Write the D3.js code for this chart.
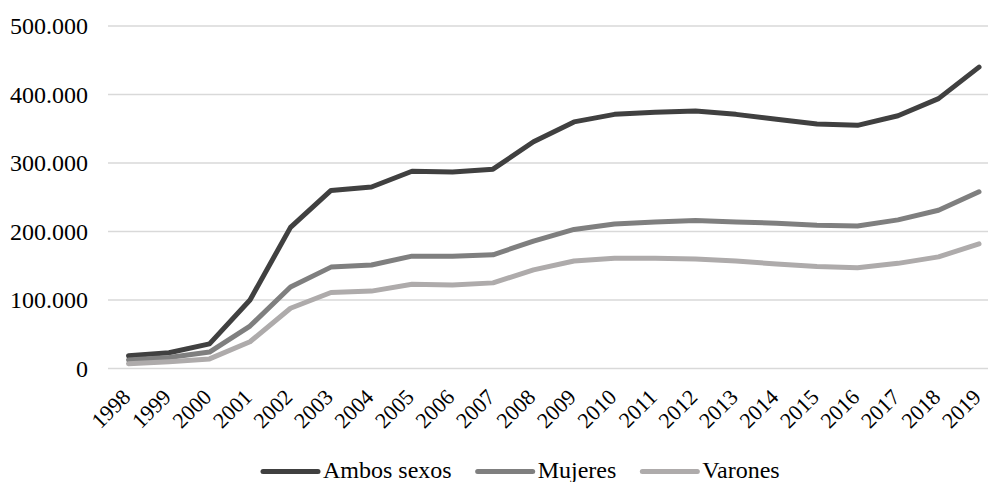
<!DOCTYPE html>
<html><head><meta charset="utf-8">
<script src="https://cdn.jsdelivr.net/npm/d3@7"></script>
<style>body{margin:0;background:#fff}svg{display:block}</style>
</head><body><svg id="c" width="988" height="482"></svg>
<script>
const years = ["1998","1999","2000","2001","2002","2003","2004","2005","2006","2007","2008","2009","2010","2011","2012","2013","2014","2015","2016","2017","2018","2019"];
const ambos = [18500,23000,36000,100000,206000,260000,265000,288000,287000,291000,331000,360000,371000,374000,376000,371000,364000,357000,355000,369000,394000,440000];
const mujeres = [12500,16000,24000,62000,119000,148000,151000,164000,164000,166000,186000,203000,211000,214000,216000,214000,212000,209000,208000,217000,231000,258000];
const varones = [7000,10000,14000,39000,88000,111000,113000,123000,122000,125000,144000,157000,161000,161000,160000,157000,152500,149000,147000,153500,163000,182000];
const yTicks = [0,100000,200000,300000,400000,500000];
const seriesNames = ["Ambos sexos","Mujeres","Varones"];
const seriesColors = ["#404040","#7f7f7f","#aeabab"];
const seriesData = [ambos, mujeres, varones];

const FAMILY = "Liberation Serif";
const svg = d3.select("#c");
const x = d3.scalePoint().domain(years).range([128.5, 979]);
const y = d3.scaleLinear().domain([0,500000]).range([368.5, 26]);
const fmt = v => d3.format(",")(v).replace(/,/g, ".");

// gridlines
svg.append("g").selectAll("line").data(yTicks).join("line")
  .attr("x1",108).attr("x2",988)
  .attr("y1",d=>y(d)).attr("y2",d=>y(d))
  .attr("stroke","#d9d9d9").attr("stroke-width",1.5);

// y axis labels
const yAxis = d3.axisLeft(y).tickValues(yTicks).tickFormat(fmt).tickSize(0).tickPadding(0);
const gy = svg.append("g").attr("transform","translate(88,0)").call(yAxis);
gy.select(".domain").remove();
gy.attr("font-family",null);
gy.selectAll("text").style("font-family",FAMILY).style("font-size","24px").style("fill","#000");

// x axis labels
const xAxis = d3.axisBottom(x).tickSize(0).tickPadding(0);
const gx = svg.append("g").attr("transform","translate(0,368.5)").call(xAxis);
gx.select(".domain").remove();
gx.attr("font-family",null);
gx.selectAll("text").style("font-family",FAMILY).style("font-size","22px").style("fill","#000")
  .attr("text-anchor","end").attr("dy",null).attr("y",0)
  .attr("transform","translate(2.7,30) rotate(-45)");

// lines
const line = d3.line().x((d,i)=>x(years[i])).y(d=>y(d));
svg.append("g").selectAll("path").data(seriesData).join("path")
  .attr("d",line).attr("fill","none")
  .attr("stroke",(d,i)=>seriesColors[i]).attr("stroke-width",5)
  .attr("stroke-linejoin","round").attr("stroke-linecap","round");

// legend
const lg = svg.append("g");
let lx = 263;
seriesNames.forEach((n,i)=>{
  lg.append("line").attr("x1",lx).attr("x2",lx+55).attr("y1",471.5).attr("y2",471.5)
    .attr("stroke",seriesColors[i]).attr("stroke-width",5).attr("stroke-linecap","round");
  const t = lg.append("text").attr("x",lx+60).attr("y",478)
    .style("font-family",FAMILY).style("font-size","24px").style("fill","#000").text(n);
  lx += 60 + t.node().getComputedTextLength() + 26;
});
</script></body></html>
